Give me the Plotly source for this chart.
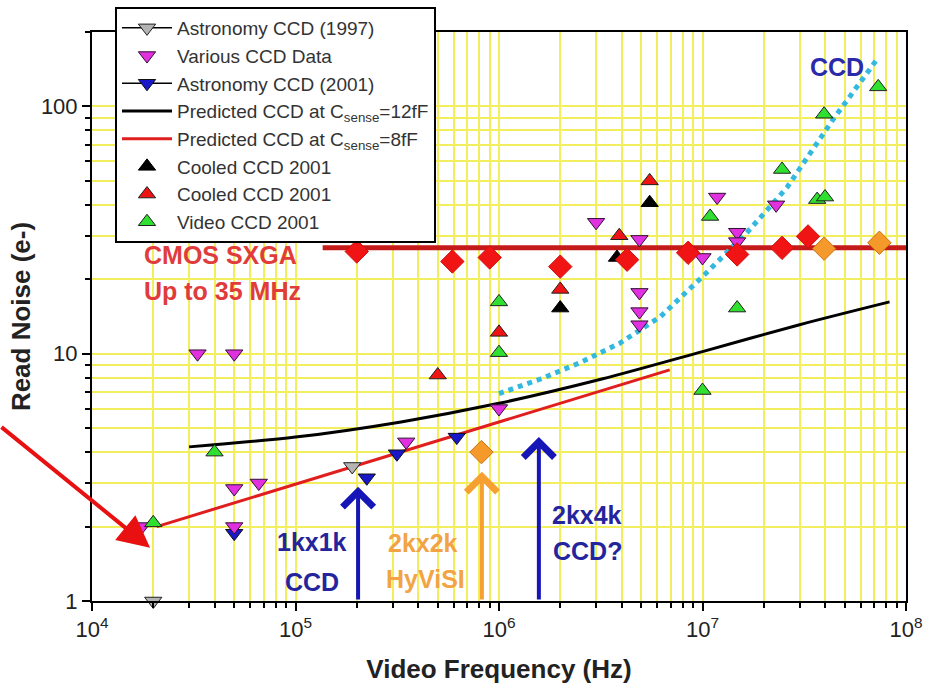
import math
import plotly.graph_objects as go

# ---------------- data ----------------
astro1997_x = [2.0e4, 1.9e5]
astro1997_y = [1.0, 3.5]

various_x = [1.76e4, 3.3e4, 5.0e4, 5.0e4, 6.6e4, 5.0e4, 3.5e5, 1.0e6, 3.0e6,
             4.9e6, 4.9e6, 4.9e6, 4.9e6, 1.0e7, 1.18e7, 1.48e7, 1.48e7, 2.3e7]
various_y = [2.0, 10.0, 10.0, 2.85, 3.0, 2.0, 4.4, 6.0, 34.0,
             29.0, 17.7, 14.8, 13.1, 24.5, 43.0, 31.0, 28.4, 40.0]

astro2001_x = [5.0e4, 2.24e5, 3.15e5, 6.2e5]
astro2001_y = [1.88, 3.15, 3.94, 4.6]

pred12_x = [3.0e4, 1.0e5, 3.3e5, 1.0e6, 3.2e6, 1.0e7, 3.0e7, 8.3e7]
pred12_y = [4.2, 4.6, 5.3, 6.3, 7.9, 10.2, 13.1, 16.2]

pred8_x = [2.08e4, 6.9e6]
pred8_y = [2.0, 8.6]

ccd_trend_x = [1.0e6, 1.6e6, 2.5e6, 3.9e6, 6.2e6, 1.0e7, 1.66e7, 2.6e7, 4.4e7, 7.2e7]
ccd_trend_y = [6.9, 7.9, 9.2, 11.0, 14.1, 20.5, 31.0, 47.0, 89.0, 155.0]

cooled_black_x = [2.0e6, 3.8e6, 5.5e6]
cooled_black_y = [15.3, 24.5, 40.8]

cooled_red_x = [5.0e5, 1.0e6, 2.0e6, 3.9e6, 5.5e6]
cooled_red_y = [8.2, 12.2, 18.2, 30.0, 50.0]

video_x = [2.0e4, 4.0e4, 1.0e6, 1.0e6, 1.0e7, 1.09e7, 1.48e7, 2.46e7, 3.66e7, 4.0e7, 3.96e7, 7.3e7]
video_y = [2.07, 4.0, 16.2, 10.1, 7.1, 35.9, 15.3, 55.6, 42.0, 43.0, 93.0, 120.0]

cmos_x = [2.0e5, 5.9e5, 9.0e5, 2.0e6, 4.26e6, 8.5e6, 1.48e7, 2.46e7, 3.3e7]
cmos_y = [25.9, 23.6, 24.5, 22.5, 24.0, 25.6, 25.2, 26.8, 29.8]

cmos_level_x = [1.36e5, 1.0e8]
cmos_level_y = [26.8, 26.8]

hyvisi_x = [8.2e5, 3.96e7, 7.4e7]
hyvisi_y = [4.0, 26.6, 28.1]

# arrows: frequency, tip value, colour
arrow_x = [2.03e5, 8.24e5, 1.57e6]
arrow_tip = [2.9, 3.33, 4.6]
arrow_col = ["#1616b8", "#f5a030", "#1616b8"]

x_tick_vals = [1e4, 1e5, 1e6, 1e7, 1e8]
x_tick_text = ["10<sup>4</sup>", "10<sup>5</sup>", "10<sup>6</sup>", "10<sup>7</sup>", "10<sup>8</sup>"]
y_tick_vals = [1, 10, 100]
y_tick_text = ["1", "10", "100"]

FONT = "Liberation Sans, Arial, sans-serif"


def gapped(xs, ys):
    gx, gy = [], []
    for i, (a, b) in enumerate(zip(xs, ys)):
        if i:
            gx.append(None)
            gy.append(None)
        gx.append(a)
        gy.append(b)
    return gx, gy


fig = go.Figure()

# lines (no legend)
fig.add_trace(go.Scatter(x=cmos_level_x, y=cmos_level_y, mode="lines",
                         line=dict(color="#c41a1a", width=5), showlegend=False))
fig.add_trace(go.Scatter(x=ccd_trend_x, y=ccd_trend_y, mode="lines",
                         line=dict(color="#33b8e0", width=5, dash="dot"), showlegend=False))

fig.add_trace(go.Scatter(x=pred12_x, y=pred12_y, mode="lines", name="Predicted CCD at C<sub>sense</sub>=12fF",
                         line=dict(color="black", width=3, shape="spline", smoothing=0.8), legendrank=4))
fig.add_trace(go.Scatter(x=pred8_x, y=pred8_y, mode="lines", name="Predicted CCD at C<sub>sense</sub>=8fF",
                         line=dict(color="#e01e1e", width=3), legendrank=5))

gx, gy = gapped(astro2001_x, astro2001_y)
fig.add_trace(go.Scatter(x=gx, y=gy, mode="lines+markers", name="Astronomy CCD (2001)",
                         connectgaps=False, line=dict(color="black", width=1.5),
                         marker=dict(symbol="triangle-down", size=15, color="#1818c8",
                                     line=dict(color="#101010", width=1)), legendrank=3))

fig.add_trace(go.Scatter(x=various_x, y=various_y, mode="markers", name="Various CCD Data",
                         marker=dict(symbol="triangle-down", size=15, color="#e030e0",
                                     line=dict(color="#301030", width=1)), legendrank=2))

gx, gy = gapped(astro1997_x, astro1997_y)
fig.add_trace(go.Scatter(x=gx, y=gy, mode="lines+markers", name="Astronomy CCD (1997)",
                         connectgaps=False, cliponaxis=False, line=dict(color="black", width=1.5),
                         marker=dict(symbol="triangle-down", size=15, color="#b4b4b4",
                                     line=dict(color="#202020", width=1)), legendrank=1))

fig.add_trace(go.Scatter(x=cooled_black_x, y=cooled_black_y, mode="markers", name="Cooled CCD 2001",
                         marker=dict(symbol="triangle-up", size=15, color="black",
                                     line=dict(color="black", width=1)), legendrank=6))
fig.add_trace(go.Scatter(x=cooled_red_x, y=cooled_red_y, mode="markers", name="Cooled CCD 2001",
                         marker=dict(symbol="triangle-up", size=15, color="#ee1414",
                                     line=dict(color="#202020", width=1)), legendrank=7))
fig.add_trace(go.Scatter(x=video_x, y=video_y, mode="markers", name="Video CCD 2001",
                         marker=dict(symbol="triangle-up", size=15, color="#30e030",
                                     line=dict(color="#202020", width=1)), legendrank=8))

fig.add_trace(go.Scatter(x=cmos_x, y=cmos_y, mode="markers", showlegend=False,
                         marker=dict(symbol="diamond", size=18, color="#f01414",
                                     line=dict(color="#d01010", width=1))))
fig.add_trace(go.Scatter(x=hyvisi_x, y=hyvisi_y, mode="markers", showlegend=False,
                         marker=dict(symbol="diamond", size=18, color="#f59a2a",
                                     line=dict(color="#c87010", width=1))))

annotations = []
for ax_, tip, col in zip(arrow_x, arrow_tip, arrow_col):
    annotations.append(dict(x=math.log10(ax_), y=math.log10(tip), xref="x", yref="y",
                            ax=math.log10(ax_), ay=0, axref="x", ayref="y",
                            text="", showarrow=True, arrowhead=4, arrowsize=1.5,
                            arrowwidth=4, arrowcolor=col))

# red pointer arrow at left
annotations.append(dict(x=math.log10(1.93e4), y=math.log10(1.64), xref="x", yref="y",
                        ax=-152, ay=-122, text="", showarrow=True, arrowhead=2,
                        arrowsize=1.6, arrowwidth=4, arrowcolor="#e81010"))

labels = [
    ("1kx1k", 312, 542, "#24249c"), ("CCD", 312, 582, "#24249c"),
    ("2kx2k", 423, 543, "#f2a444"), ("HyViSI", 425, 579, "#f2a444"),
    ("2kx4k", 587, 515, "#24249c"), ("CCD?", 587, 551, "#24249c"),
    ("CCD", 837, 67, "#2a2aaa"),
    ("CMOS SXGA", 220, 255, "#e03c3c"), ("Up to 35 MHz", 222, 291, "#e03c3c"),
]
L, R, T, B = 92, 906, 32, 601
for txt, px, py, col in labels:
    annotations.append(dict(x=(px - L) / (R - L), y=(B - py) / (B - T), xref="paper", yref="paper",
                            xanchor="center", yanchor="middle",
                            text="<b>" + txt + "</b>", showarrow=False,
                            font=dict(family=FONT, size=25, color=col)))

grid_col = "#f2ee5e"
fig.update_layout(
    width=929, height=688,
    margin=dict(l=L, r=929 - R, t=T, b=688 - B, autoexpand=False),
    paper_bgcolor="white", plot_bgcolor="white",
    font=dict(family=FONT, color="#222222"),
    showlegend=True,
    legend=dict(x=(115 - L) / (R - L), y=(B - 7) / (B - T), xanchor="left", yanchor="top",
                bgcolor="white", bordercolor="black", borderwidth=2,
                font=dict(family=FONT, size=19, color="#333333"),
                itemwidth=50, tracegroupgap=0, traceorder="normal"),
    annotations=annotations,
    xaxis=dict(type="log", range=[4, 8], tickvals=x_tick_vals, ticktext=x_tick_text,
               showline=True, linecolor="black", linewidth=2, mirror=True,
               ticks="outside", ticklen=8, tickwidth=2, tickcolor="black",
               tickfont=dict(family=FONT, size=22, color="#222222"),
               showgrid=True, gridcolor=grid_col, gridwidth=2,
               minor=dict(ticks="outside", ticklen=5, tickwidth=1.5, tickcolor="black",
                          showgrid=True, gridcolor=grid_col, gridwidth=2, dtick="D1"),
               title=dict(text="<b>Video Frequency (Hz)</b>", standoff=18,
                          font=dict(family=FONT, size=26, color="#222222")),
               automargin=False, zeroline=False),
    yaxis=dict(type="log", range=[0, math.log10(200)], tickvals=y_tick_vals, ticktext=y_tick_text,
               showline=True, linecolor="black", linewidth=2, mirror=True,
               ticks="outside", ticklen=8, tickwidth=2, tickcolor="black",
               tickfont=dict(family=FONT, size=22, color="#222222"),
               showgrid=True, gridcolor=grid_col, gridwidth=2,
               minor=dict(ticks="outside", ticklen=5, tickwidth=1.5, tickcolor="black",
                          showgrid=True, gridcolor=grid_col, gridwidth=2, dtick="D1"),
               title=dict(text="<b>Read Noise (e-)</b>", standoff=3,
                          font=dict(family=FONT, size=26, color="#222222")),
               automargin=False, zeroline=False),
)

fig.write_html("out.html", config={"displayModeBar": False},
               post_script="document.body.style.margin='0px';document.body.style.overflow='hidden';")
